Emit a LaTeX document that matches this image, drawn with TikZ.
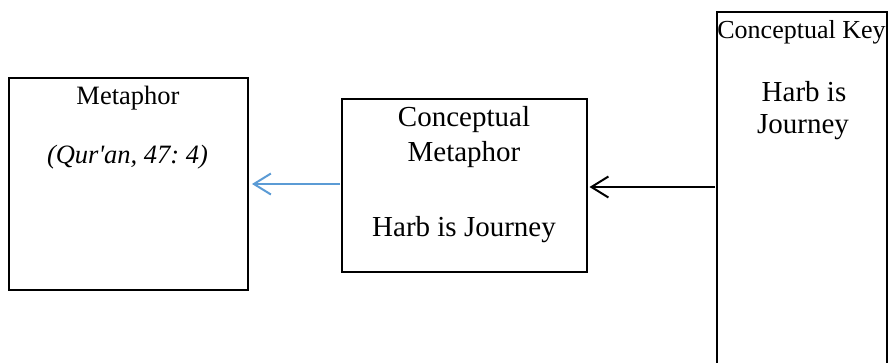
\documentclass[tikz,border=0pt]{standalone}
\usepackage{fontspec}
\setmainfont{Liberation Serif}
\usetikzlibrary{arrows.meta}
\definecolor{linkblue}{RGB}{91,155,213}
\tikzset{
  frame/.style={draw, line width=2pt, inner sep=0pt},
  link/.style={line width=2pt, -{Straight Barb[length=17pt,width=21pt,line width=2pt]}},
  small/.style={anchor=base, font=\fontsize{26.5}{32}\selectfont},
  big/.style={anchor=base, font=\fontsize{29}{35}\selectfont},
}
\begin{document}
\begin{tikzpicture}[x=1pt,y=-1pt]
\useasboundingbox (0,0) rectangle (888,362);
\clip (0,0) rectangle (888,362);
% boxes
\node[frame, minimum width=239pt, minimum height=212pt] (metaphor) at (128.5,184) {};
\node[frame, minimum width=245pt, minimum height=173pt] (concept) at (464.5,185.5) {};
\node[frame, minimum width=170pt, minimum height=368pt] (key) at (802,196) {};
% texts
\node[small] (metaphortitle) at (128,104) {Metaphor};
\node[small, font=\fontsize{26.5}{32}\selectfont\itshape] (verse) at (127.5,163) {(Qur\textquotesingle an, 47:\ 4)};
\node[big] (concepttitle) at (464,126) {Conceptual};
\node[big] (concepttitle2) at (464,161.5) {Metaphor};
\node[big] (conceptbody) at (464,236.5) {Harb is Journey};
\node[small, font=\fontsize{26}{32}\selectfont] (keytitle) at (801.5,38.5) {Conceptual Key};
\node[big] (keybody) at (804,101.5) {Harb is};
\node[big] (keybody2) at (803,133) {Journey};
% arrows
\draw[link, linkblue, shorten <=1pt, shorten >=3pt] ([yshift=1.5pt]concept.west) -- ([yshift=1.5pt]metaphor.east |- concept.west);
\draw[link, shorten <=1pt, shorten >=1.5pt] ([yshift=-1.5pt]key.west |- concept.east) -- ([yshift=-1.5pt]concept.east);
\end{tikzpicture}
\end{document}
